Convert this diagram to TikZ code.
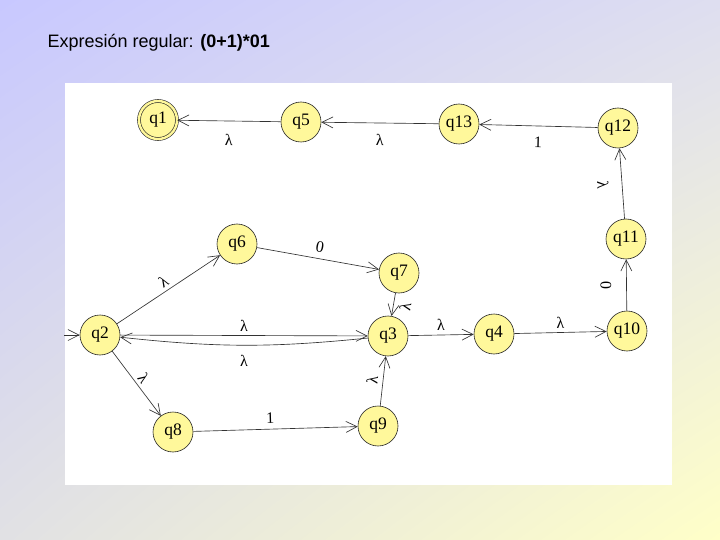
\documentclass[tikz,border=0pt]{standalone}
\usepackage{fontspec}
\setmainfont{Liberation Serif}
\newfontfamily\titlefont{Liberation Sans}
\usetikzlibrary{arrows.meta,shadings}
\definecolor{stfill}{RGB}{255,248,155}
\definecolor{bgul}{RGB}{200,200,255}
\definecolor{bgur}{RGB}{222,222,240}
\definecolor{bgll}{RGB}{225,225,228}
\definecolor{bglr}{RGB}{255,255,200}
\begin{document}
\begin{tikzpicture}[x=1pt,y=-1pt,
  st/.style={circle, draw=black!85, fill=stfill, minimum size=40pt, inner sep=0pt,
    line width=0.6pt, font=\fontsize{17.5}{17.5}\selectfont},
  acc/.style={st, double=stfill, double distance=2.4pt, minimum size=38pt},
  ed/.style={draw=black!80, line width=0.65pt, -{Straight Barb[length=11pt,width=11pt]}},
  lab/.style={font=\fontsize{16}{16}\selectfont, inner sep=0pt, sloped}]
\useasboundingbox (0,0) rectangle (720,540);
\shade[upper left=bgul, upper right=bgur, lower left=bgll, lower right=bglr] (0,0) rectangle (720,540);
\fill[white] (65,83) rectangle (672,485);
\node[anchor=base west, font=\titlefont\fontsize{18}{18}\selectfont] (title) at (44,47.5) {Expresión regular: \textbf{(0+1)*01}};
\node[acc] (q1) at (158,120) {q1};
\node[st] (q5) at (301,122) {q5};
\node[st] (q13) at (459,124) {q13};
\node[st] (q12) at (618,128) {q12};
\node[st] (q11) at (626,239) {q11};
\node[st] (q10) at (627,331) {q10};
\node[st] (q4) at (494,334) {q4};
\node[st] (q3) at (388,336) {q3};
\node[st] (q7) at (399,273) {q7};
\node[st] (q6) at (237,244) {q6};
\node[st] (q2) at (100,335) {q2};
\node[st] (q8) at (173,432) {q8};
\node[st] (q9) at (378,426) {q9};
\coordinate (init) at (64,335);
\draw[ed] (init) -- (q2);
\draw[ed] (q5) -- node[lab, below=13pt] {λ} (q1);
\draw[ed] (q13) -- node[lab, below=11pt] {λ} (q5);
\draw[ed] (q12) -- node[lab, below=11pt] {1} (q13);
\draw[ed] (q11) -- node[lab, below=13pt] {λ} (q12);
\draw[ed] (q10) -- node[lab, below=15pt] {0} (q11);
\draw[ed] (q4) -- node[lab, above=4pt] {λ} (q10);
\draw[ed] (q3) -- node[lab, above=4pt] {λ} (q4);
\draw[ed] (q2) -- node[lab, above=4pt] {λ} (q3);
\draw[ed] (q3) to[bend left=6] node[lab, below=10pt] {λ} (q2);
\draw[ed] (q2) -- node[lab, above=3pt] {λ} (q6);
\draw[ed] (q6) -- node[lab, above=6pt] {0} (q7);
\draw[ed] (q7) -- node[lab, below=6pt] {λ} (q3);
\draw[ed] (q2) -- node[lab, above=3pt] {λ} (q8);
\draw[ed] (q9) -- node[lab, above=5pt] {λ} (q3);
\draw[ed] (q8) -- node[lab, pos=0.47, above=5pt] {1} (q9);
\end{tikzpicture}
\end{document}
